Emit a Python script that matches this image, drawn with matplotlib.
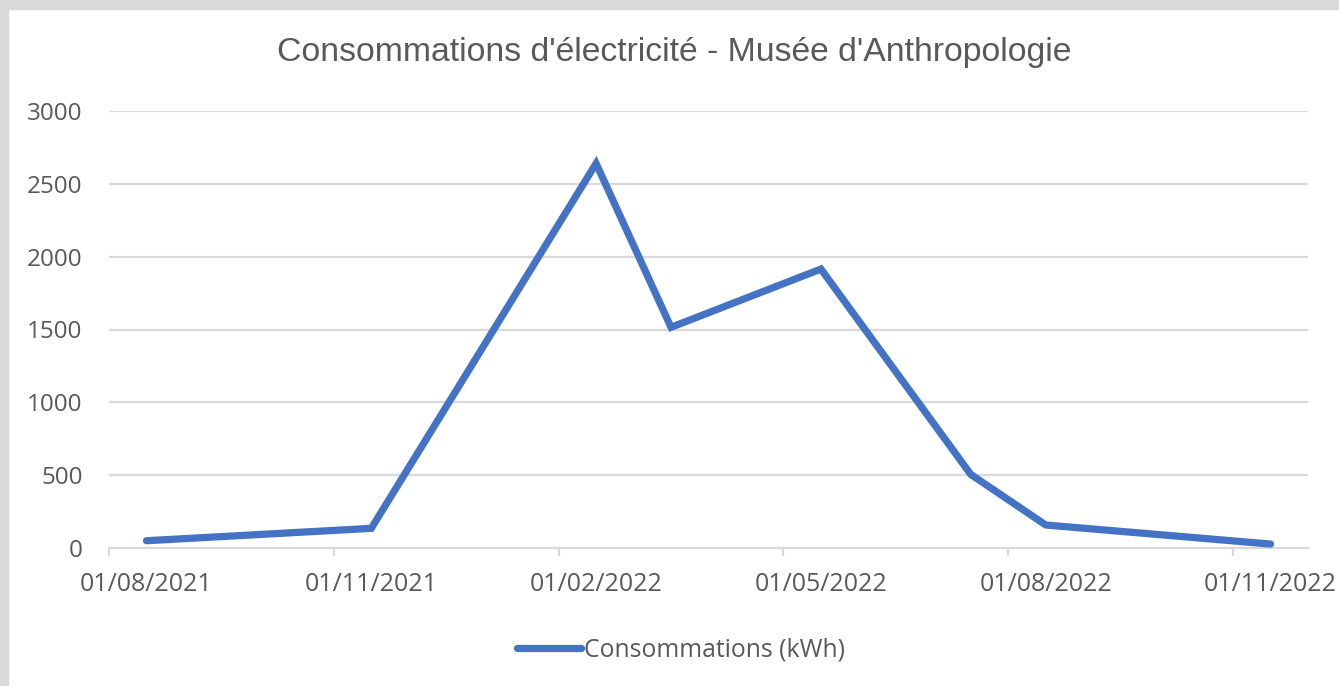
import matplotlib
matplotlib.use("Agg")
import matplotlib.pyplot as plt
from matplotlib.patches import Rectangle
from datetime import date

# ---- data ----
dates = ["2021-08-01", "2021-11-01", "2022-02-01", "2022-03-01",
         "2022-05-01", "2022-07-01", "2022-08-01", "2022-11-01"]
consommations = [50, 135, 2640, 1515, 1915, 505, 158, 27]
tick_labels = ["01/08/2021", "01/11/2021", "01/02/2022",
               "01/05/2022", "01/08/2022", "01/11/2022"]
y_ticks = [0, 500, 1000, 1500, 2000, 2500, 3000]
title = "Consommations d'électricité - Musée d'Anthropologie"
series_name = "Consommations (kWh)"

# month-based date axis (Excel style: points at the middle of their month)
origin = date(2021, 8, 1)
def month_index(s):
    d = date.fromisoformat(s)
    return (d.year - origin.year) * 12 + d.month - origin.month
xs = [month_index(d) + 0.5 for d in dates]
tick_pos = [month_index("%s-%s-%s" % (t[6:], t[3:5], t[0:2])) for t in tick_labels]

W, H = 1339, 686
fig = plt.figure(figsize=(W / 100, H / 100), dpi=100)
fig.patch.set_facecolor("white")
# gray frame at top and left
fig.patches.append(Rectangle((0, 1 - 9 / H), 1, 9 / H, transform=fig.transFigure,
                             color="#d9d9d9", zorder=0))
fig.patches.append(Rectangle((0, 0), 8 / W, 1, transform=fig.transFigure,
                             color="#d9d9d9", zorder=0))

left, right, top, bottom = 109, 1308, 111, 548
ax = fig.add_axes([left / W, 1 - bottom / H, (right - left) / W, (bottom - top) / H])
ax.set_xlim(0, 16)
ax.set_ylim(0, 3000)

grey = "#d9d9d9"
txt = "#595959"
for v in y_ticks[1:]:
    ax.axhline(v, color=grey, lw=1.6, zorder=1)
for s in ["top", "right", "left"]:
    ax.spines[s].set_visible(False)
ax.spines["bottom"].set_color(grey)
ax.spines["bottom"].set_linewidth(1.6)

ax.plot(xs, consommations, color="#4472c4", lw=5.2, solid_joinstyle="miter",
        solid_capstyle="round", zorder=3, label=series_name, clip_on=False)

ax.set_yticks(y_ticks)
ax.set_yticklabels([str(v) for v in y_ticks], fontsize=17.5, color=txt,
                   family="Open Sans")
ax.tick_params(axis="y", length=0, pad=19)

# tick marks at month boundaries, labels centred on the month
ax.set_xticks(tick_pos)
ax.set_xticklabels([])
ax.tick_params(axis="x", which="major", length=6, width=1.6, color=grey)
ax.set_xticks([p + 0.5 for p in tick_pos], minor=True)
ax.set_xticklabels(tick_labels, minor=True, fontsize=18, color=txt, family="Open Sans")
ax.tick_params(axis="x", which="minor", length=0, pad=17)

fig.text(674 / W, 1 - 53 / H, title, ha="center", va="center",
         fontsize=24.3, color=txt, family="Liberation Sans")

leg = fig.legend(loc="center", bbox_to_anchor=(681 / W, 1 - 650 / H), frameon=False,
                 handlelength=2.6, handletextpad=0.15,
                 prop={"family": "Open Sans", "size": 17.8})
for t in leg.get_texts():
    t.set_color(txt)

fig.savefig("out.png", dpi=100)
